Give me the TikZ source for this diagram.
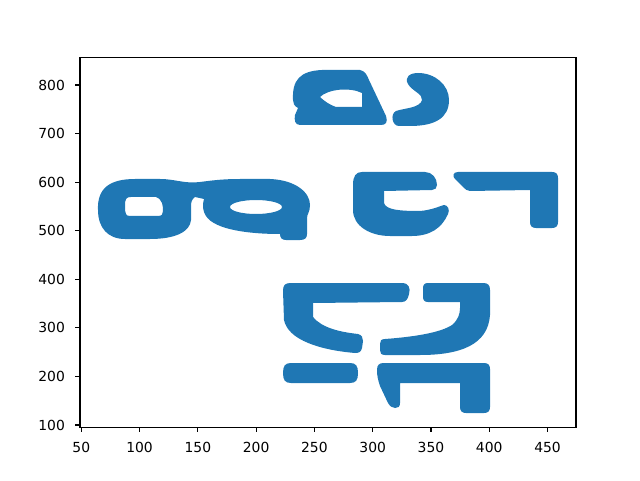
\documentclass[tikz,border=0pt]{standalone}
\usepackage{fontspec}
\setmainfont{DejaVu Sans}
\definecolor{tabblue}{RGB}{31,119,180}
\tikzset{
  glyph/.style={fill=tabblue},
  axisline/.style={line width=0.56pt, black},
  ticklabel/.style={inner sep=0pt, font=\fontsize{6.94}{8}\selectfont}
}
\begin{document}
\begin{tikzpicture}[x=0.5pt,y=0.5pt,yscale=-1,xscale=1]
\path (0,0) rectangle (640,480); %set picture to 640 x 480

%Shape: Glyph top left
\fill[glyph, even odd rule] (293,100) .. controls (292,80) and (300,71) .. (322,70) -- (360,70) .. controls (365,71) and (367,75) .. (369,80) -- (386,116) .. controls (388,122) and (386,125) .. (381,125) -- (300,125) .. controls (295,125) and (294,120) .. (295,115) -- (298,108) .. controls (294,106) and (293,103) .. (293,100) -- cycle
  (320,97) .. controls (328,89) and (350,87) .. (362,93) -- (362,107) -- (336,107) .. controls (330,105) and (324,101) .. (320,97) -- cycle;
%Shape: Glyph top right
\fill[glyph] (408,84) .. controls (404,77) and (410,73) .. (418,73) .. controls (435,73) and (449,85) .. (449,100) .. controls (449,118) and (435,126) .. (410,126) -- (399,126) .. controls (392,126) and (390,114) .. (396,111) .. controls (405,108) and (420,108) .. (422,100) .. controls (423,94) and (412,91) .. (408,84) -- cycle;

%Shape: Glyph double loop
\fill[glyph, even odd rule] (98,210) .. controls (97,188) and (110,179) .. (135,179) -- (160,179) .. controls (175,179) and (185,184) .. (200,182) .. controls (215,180) and (225,179) .. (240,179) -- (270,179) .. controls (295,180) and (310,192) .. (310,205) .. controls (310,212) and (307,214) .. (307,218) -- (307,234) .. controls (307,238) and (305,240) .. (300,240) -- (286,240) .. controls (282,240) and (280,238) .. (280,234) .. controls (250,234) and (215,230) .. (206,216) .. controls (203,212) and (202,205) .. (204,199) -- (195,197) .. controls (192,199) and (191,202) .. (191,206) -- (191,220) .. controls (190,232) and (175,239) .. (150,239) -- (125,239) .. controls (108,239) and (98,228) .. (98,210) -- cycle
  (125,206) .. controls (125,199) and (126,197) .. (131,197) -- (156,197) .. controls (159,197) and (160,200) .. (162,203) .. controls (163,206) and (163,209) .. (163,211) .. controls (163,214) and (162,216) .. (158,216) -- (130,216) .. controls (126,216) and (125,214) .. (125,206) -- cycle
  (256,207) ellipse [x radius=26, y radius=7];
%Shape: Glyph open box
\fill[glyph] (353,185) .. controls (353,176) and (356,172) .. (362,172) -- (425,172) .. controls (432,172) and (437,178) .. (437,185) .. controls (437,188) and (435,190) .. (432,190) -- (384,191) -- (384,203) .. controls (386,210) and (400,211) .. (420,211) .. controls (432,210) and (440,206) .. (444,205) .. controls (448,205) and (450,210) .. (448,214) .. controls (442,228) and (430,236) .. (412,236) -- (390,236) .. controls (370,236) and (353,226) .. (353,210) -- cycle;
%Shape: Glyph hook
\fill[glyph] (500,172) -- (552,172) .. controls (556,172) and (558,174) .. (558,178) -- (558,222) .. controls (558,226) and (556,228) .. (552,228) -- (536,228) .. controls (532,228) and (530,226) .. (530,222) -- (530,190) -- (470,191) .. controls (467,191) and (465,189) .. (463,187) -- (455,179) .. controls (452,176) and (453,172) .. (458,172) -- cycle;

%Shape: Glyph bottom left upper
\fill[glyph] (350,283) -- (403,283) .. controls (408,283) and (411,288) .. (409,294) .. controls (408,299) and (406,302) .. (402,302) -- (313,303) -- (313,317) .. controls (322,328) and (340,332) .. (358,334) .. controls (362,335) and (363,338) .. (363,341) -- (362,348) .. controls (361,352) and (359,353) .. (355,353) .. controls (320,350) and (288,340) .. (284,320) -- (283,291) .. controls (283,285) and (285,283) .. (291,283) -- cycle;
%Shape: Glyph bottom right upper
\fill[glyph] (460,283) -- (483,283) .. controls (488,283) and (490,285) .. (490,290) -- (490,315) .. controls (488,345) and (460,355) .. (420,355) -- (385,355) .. controls (381,355) and (380,353) .. (380,350) -- (380,344) .. controls (380,341) and (381,339) .. (385,339) .. controls (412,337) and (440,333) .. (452,325) .. controls (458,320) and (460,314) .. (460,308) -- (460,302) -- (428,302) .. controls (424,302) and (423,300) .. (423,296) -- (423,289) .. controls (423,285) and (424,283) .. (428,283) -- cycle;
%Shape: Glyph bottom bar
\fill[glyph] (320,363) -- (350,363) .. controls (356,363) and (358,366) .. (358,373) .. controls (358,380) and (356,383) .. (350,383) -- (291,383) .. controls (285,383) and (283,380) .. (283,373) .. controls (283,366) and (285,363) .. (291,363) -- cycle;
%Shape: Glyph bottom right lower
\fill[glyph] (430,363) -- (484,363) .. controls (488,363) and (490,365) .. (490,369) -- (490,407) .. controls (490,411) and (488,413) .. (484,413) -- (466,413) .. controls (462,413) and (460,411) .. (460,407) -- (460,383) -- (400,383) -- (400,403) .. controls (400,407) and (398,408) .. (395,408) .. controls (392,408) and (390,406) .. (388,403) -- (380,386) .. controls (378,380) and (377,376) .. (377,370) .. controls (377,365) and (379,363) .. (384,363) -- cycle;

%Axes frame
\draw[axisline] (80,57.6) rectangle (576,427.2);
% Text Node
\foreach \v in {50,100,...,450}{
  \pgfmathsetmacro\px{81.3+(\v-50)*1.1655}
  \draw[axisline] (\px,427.2) -- ++(0,4.86) node (xtick\v) [below=4.86, ticklabel] {\v};
}
% Text Node
\foreach \v in {100,200,...,800}{
  \pgfmathsetmacro\py{425-(\v-100)*0.4857}
  \draw[axisline] (80,\py) -- ++(-4.86,0) node (ytick\v) [left=4.86, ticklabel] {\v};
}
\end{tikzpicture}
\end{document}
